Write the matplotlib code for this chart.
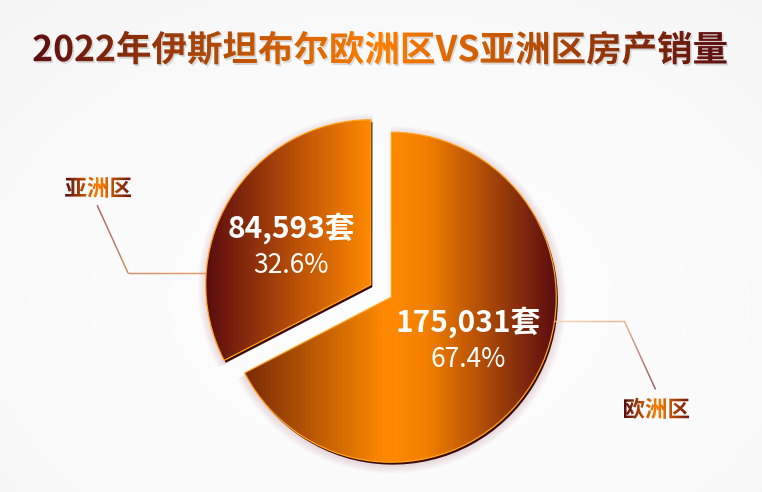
import numpy as np
import matplotlib
matplotlib.use('Agg')
import matplotlib.pyplot as plt
from matplotlib.patches import Wedge, PathPatch
from matplotlib.textpath import TextPath
from matplotlib.font_manager import FontProperties
from matplotlib.colors import LinearSegmentedColormap, to_rgb
from matplotlib.transforms import Affine2D
from matplotlib.collections import LineCollection

# ---------------- data ----------------
title = "2022年伊斯坦布尔欧洲区VS亚洲区房产销量"
regions = ["亚洲区", "欧洲区"]
sales = [84593, 175031]
unit = "套"

# ---------------- style ----------------
W, H = 762, 492
CJK = 'Noto Sans CJK SC'
fp_bold = FontProperties(family=CJK, weight='bold')
DARK = '#5a0c10'
ORANGE = '#ff8a00'

fig = plt.figure(figsize=(W / 100, H / 100), dpi=100)
ax = fig.add_axes([0, 0, 1, 1])

# background: very light radial gradient
yy, xx = np.mgrid[0:H, 0:W]
d = np.sqrt(((xx - 390) / 600) ** 2 + ((yy - 300) / 420) ** 2)
bg = 0.993 - 0.035 * np.clip(d, 0, 1.3) ** 2
ax.imshow(np.dstack([bg, bg, bg]), extent=(0, W, 0, H), zorder=0, aspect='auto')

# ---------------- pie ----------------
CX, CY, R, EXP = 381, 201, 165, 12
wedges, _ = ax.pie(sales, startangle=90, counterclock=True, radius=R,
                   center=(CX, CY), explode=[EXP, EXP],
                   wedgeprops=dict(facecolor='none', edgecolor='none'))

grad_stops = [
    [(0.0, DARK), (0.5, '#b34a08'), (1.0, ORANGE)],
    [(0.0, '#7a2a08'), (0.45, ORANGE), (0.58, '#f58000'), (1.0, DARK)],
]
total = sum(sales)
grad = np.linspace(0, 1, 256).reshape(1, -1)


def gradient_line(pts, c0, c1, lw=1.0, z=6):
    pts = np.asarray(pts, float)
    seg_len = np.hypot(*np.diff(pts, axis=0).T)
    cum = np.concatenate([[0], np.cumsum(seg_len)])
    s = np.linspace(0, cum[-1], 120)
    x = np.interp(s, cum, pts[:, 0])
    y = np.interp(s, cum, pts[:, 1])
    segs = np.stack([np.column_stack([x[:-1], y[:-1]]),
                     np.column_stack([x[1:], y[1:]])], axis=1)
    t = np.linspace(0, 1, len(segs))[:, None]
    cols = (1 - t) * np.array(to_rgb(c0)) + t * np.array(to_rgb(c1))
    ax.add_collection(LineCollection(segs, colors=cols, linewidths=lw, zorder=z))


def grad_text(s, x, y, size, stops, z=10, shadow=False):
    tp = TextPath((0, 0), s, size=size, prop=fp_bold)
    ext = tp.get_extents()
    path = Affine2D().translate(x - (ext.x0 + ext.x1) / 2,
                                y - (ext.y0 + ext.y1) / 2).transform_path(tp)
    if shadow:
        sp = Affine2D().translate(1.5, -2).transform_path(path)
        ax.add_patch(PathPatch(sp, facecolor='#000000', edgecolor='none',
                               alpha=0.13, zorder=z - 1))
    patch = PathPatch(path, facecolor='none', edgecolor='none', zorder=z)
    ax.add_patch(patch)
    e = path.get_extents()
    cmap = LinearSegmentedColormap.from_list('g', stops)
    im = ax.imshow(grad, cmap=cmap, extent=(e.x0, e.x1, e.y0, e.y1),
                   aspect='auto', zorder=z, interpolation='bicubic')
    im.set_clip_path(patch)


leader = [
    dict(ang=176, run=-78, ddx=-31, ddy=68, ldy=18, c=('#e3803a', '#c0703c', '#8a3a30')),
    dict(ang=-8.4, run=70, ddx=31, ddy=-68, ldy=-19, c=('#f6cfa8', '#e0a070', '#7a2a30')),
]
label_rot = [6, 2]

for i, w in enumerate(wedges):
    cx, cy = w.center
    r, t1, t2 = w.r, w.theta1, w.theta2
    # soft pinkish halo
    for k in range(7):
        ax.add_patch(Wedge((cx + 1, cy - 2.5), r + 1 + k * 1.3, t1 - 0.3, t2 + 0.3,
                           facecolor='#b06870', edgecolor='none', alpha=0.035, zorder=2))
    # dark rim shadow
    ax.add_patch(Wedge((cx + 1.6, cy - 2.4), r, t1, t2, facecolor='#3a0808',
                       edgecolor='none', zorder=3))
    # gradient fill
    angs = np.radians(np.linspace(t1, t2, 200))
    xs = np.concatenate([[cx], cx + r * np.cos(angs)])
    ys = np.concatenate([[cy], cy + r * np.sin(angs)])
    cmap = LinearSegmentedColormap.from_list('w%d' % i, grad_stops[i])
    im = ax.imshow(grad, cmap=cmap, extent=(xs.min(), xs.max(), ys.min(), ys.max()),
                   aspect='auto', zorder=4, interpolation='bicubic')
    w.set_edgecolor('#ffa51c')
    w.set_linewidth(0.9)
    w.set_zorder(5)
    im.set_clip_path(w)

    # inside labels
    tm = np.radians((t1 + t2) / 2 + label_rot[i])
    lx = cx + 0.535 * r * np.cos(tm)
    ly = cy + 0.535 * r * np.sin(tm)
    ax.text(lx, ly + 19, f"{sales[i]:,}{unit}", ha='center', va='center',
            color='white', fontsize=21.5, fontweight='bold', family=CJK, zorder=8)
    ax.text(lx, ly - 19, f"{sales[i] / total * 100:.1f}%", ha='center', va='center',
            color='white', fontsize=19, fontweight='normal', family=CJK, zorder=8)

    # leader lines & outer labels
    L = leader[i]
    a = np.radians(L['ang'])
    p0 = (cx + r * np.cos(a), cy + r * np.sin(a))
    p1 = (p0[0] + L['run'], p0[1])
    p2 = (p1[0] + L['ddx'], p1[1] + L['ddy'])
    gradient_line([p0, p1], L['c'][0], L['c'][1])
    gradient_line([p1, p2], L['c'][1], L['c'][2])
    grad_text(regions[i], p2[0] + 1, p2[1] + L['ldy'], 22.5,
              [(0, DARK), (0.5, '#ff8000'), (1, '#6a1410')], z=9)

# ---------------- title ----------------
grad_text(title, 380, 444, 35.5,
          [(0, '#5c0e10'), (0.5, '#ff8000'), (1, '#5c0e10')], z=10, shadow=True)

ax.set_xlim(0, W)
ax.set_ylim(0, H)
ax.set_aspect('auto')
ax.axis('off')
fig.savefig('out.png', dpi=100)
